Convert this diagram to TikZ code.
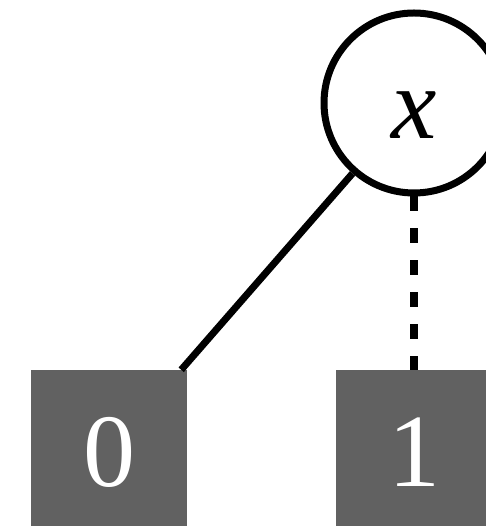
\documentclass[tikz,border=0pt]{standalone}
\usepackage{fontspec}
\setmainfont{Liberation Serif}
\begin{document}
\begin{tikzpicture}[x=1pt,y=1pt,
  decision/.style={circle, draw=black, line width=7pt, fill=white,
    minimum size=180pt, inner sep=0pt,
    font=\fontsize{102}{110}\selectfont\itshape},
  terminal/.style={rectangle, fill=black!62, text=white, draw=none,
    minimum size=156pt, inner sep=0pt,
    font=\fontsize{104}{110}\selectfont},
  highedge/.style={line width=7pt},
  lowedge/.style={line width=8pt, dash pattern=on 15pt off 17pt}]
  \useasboundingbox (0,0) rectangle (486,527);
  % decision node and its two terminal children
  \node[decision] (x) at (414,424) {\raisebox{-36pt}[0pt][0pt]{x}};
  \node[terminal] (b0) at (109,79) {\raisebox{-39pt}[0pt][0pt]{0}};
  \node[terminal] (b1) at (414,79) {\raisebox{-39pt}[0pt][0pt]{1}};
  % branches
  \draw[highedge] (x) -- ([xshift=-6pt]b0.north east);
  \draw[lowedge] (x.south) -- (b1.north);
\end{tikzpicture}
\end{document}
